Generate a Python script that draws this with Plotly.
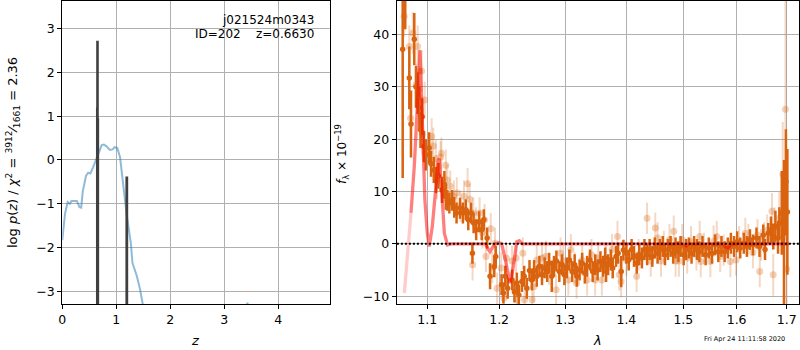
import plotly.graph_objects as go

W, H = 800, 350

# ---------------- left panel data: p(z) ----------------
pz_z = [0.0, 0.05, 0.10, 0.14, 0.17, 0.23, 0.27, 0.32, 0.35, 0.38, 0.44, 0.48, 0.52,
        0.57, 0.62, 0.67, 0.73, 0.77, 0.82, 0.88, 0.93, 0.97, 1.02, 1.07, 1.13, 1.19,
        1.27, 1.30, 1.38, 1.44, 1.49, 1.55, 1.7, 2.0, 2.5, 3.0, 3.3, 3.38, 3.43, 3.48,
        3.6, 4.0, 4.5, 4.96]
pz_logp = [-1.83, -1.23, -0.96, -1.0, -0.94, -0.93, -0.94, -1.08, -1.09, -0.71, -0.36,
           -0.29, -0.31, -0.17, -0.02, 0.17, 0.34, 0.35, 0.31, 0.23, 0.24, 0.29, 0.27,
           0.06, -0.62, -1.22, -1.9, -2.35, -2.65, -2.95, -3.29, -3.8, -5, -7, -8, -7,
           -5, -3.6, -3.26, -3.6, -5, -7, -8, -9]

chi_z = [0.635, 0.652, 0.668, 1.195]
chi_top = [1.2, 2.72, 0.95, -0.38]
chi_w = [1.2, 2.6, 1.6, 2.8]
BAR_FLOOR = -10

# ---------------- right panel data: spectrum ----------------
dark_wave = [1.0677, 1.071, 1.0763, 1.0785, 1.0828, 1.0850, 1.0872, 1.0895, 1.0910, 1.0932,
             1.0955, 1.0981, 1.1025, 1.1050, 1.1087, 1.1117, 1.1150, 1.1198, 1.1230, 1.1250,
             1.1270, 1.1298, 1.1335, 1.1365, 1.1397, 1.1445, 1.1485, 1.1525, 1.1560, 1.1600,
             1.1618, 1.1635, 1.1671, 1.1713, 1.1750, 1.1780, 1.1827, 1.1869, 1.1930, 1.1951,
             1.2036, 1.2062, 1.2090, 1.2125, 1.2190, 1.2225, 1.2260, 1.2290, 1.2335, 1.2370,
             1.2410, 1.2450, 1.2485, 1.2520, 1.2560, 1.2600, 1.2640, 1.2680, 1.2720, 1.2749,
             1.2790, 1.2825, 1.2862, 1.2908, 1.2950, 1.2987, 1.3025, 1.3066, 1.3110, 1.3150,
             1.3185, 1.3229, 1.3270, 1.3313, 1.3350, 1.3397, 1.3440, 1.3482, 1.3520, 1.3567,
             1.3611, 1.3645, 1.3660, 1.3694, 1.3739, 1.3770, 1.3826, 1.3860, 1.3913, 1.3950,
             1.4000, 1.4040, 1.4089, 1.4130, 1.4177, 1.4220, 1.4266, 1.4310, 1.4357, 1.4400,
             1.4447, 1.4490, 1.4539, 1.4580, 1.4631, 1.4670, 1.4724, 1.4770, 1.4817, 1.4860,
             1.4911, 1.4950, 1.5006, 1.5050, 1.5101, 1.5150, 1.5197, 1.5250, 1.5294, 1.5352,
             1.5411, 1.5470, 1.5529, 1.5589, 1.5649, 1.5709, 1.5770, 1.5830, 1.5890, 1.5950,
             1.6010, 1.6070, 1.6140, 1.6200, 1.6260, 1.6320, 1.6390, 1.6450, 1.6525, 1.6560,
             1.6625, 1.6680, 1.6725, 1.6770, 1.6823, 1.6850, 1.6900, 1.6945, 1.6985, 1.7015]
dark_flux = [37.2, 49.0, 31.7, 22.9, 39.1, 30.0, 28.8, 26.0, 21.8, 24.3,
             18.6, 17.0, 18.3, 15.3, 14.1, 12.2, 13.0, 10.3, 11.4, 9.0,
             8.3, 7.8, 8.3, 7.0, 5.9, 6.8, 5.9, 6.5, 4.6, 5.9,
             -1.8, 4.0, 2.7, 4.2, 2.7, 4.6, 1.1, -6.2, -4.4, -2.4,
             -7.8, -9.4, -6.2, -8.5, -6.9, -9.2, -7.5, -9.8, -7.2, -6.2,
             -8.5, -5.1, -6.9, -5.1, -6.2, -4.3, -5.9, -4.6, -5.3, -3.7,
             -6.2, -4.3, -3.3, -5.3, -4.0, -5.9, -4.6, -3.1, -5.3, -4.0,
             -6.2, -5.0, -3.7, -5.6, -4.3, -3.1, -5.3, -4.0, -5.0, -3.4,
             -4.3, -2.7, -5.3, -4.0, -3.1, -4.6, -2.4, -1.8, -5.3, -1.2,
             -1.8, -3.1, -1.1, -2.4, -3.7, -2.1, -2.7, -1.1, -2.1, -1.1,
             -2.4, -0.8, -1.8, -1.1, -0.5, -2.1, -1.1, -0.5, -1.8, -0.8,
             -1.5, -0.5, -2.1, -1.1, -0.8, -1.8, -0.5, -1.1, -1.5, -0.5,
             -2.1, -0.8, -1.8, -0.2, -1.5, -0.5, -1.5, -0.8, 0.1, -0.5,
             0.4, -0.8, 0.1, -0.5, 0.8, -0.2, 1.1, -0.5, 1.7, -1.1,
             2.0, 2.7, 1.4, 3.3, 1.1, 4.0, 5.9, 2.0, 11.9, 6.1]
dark_err = [24.6, 8, 6, 6.4, 5, 4, 4, 4, 3.5, 3.5,
            3, 3, 3, 2.5, 2.5, 2.5, 2.5, 2.5, 2.5, 2.5,
            2, 2, 2, 2, 2, 2, 2, 2, 2, 2,
            2, 2, 2, 2, 2, 2, 2, 2.5, 2, 2,
            2, 2, 2, 2, 2, 2, 2, 2, 2, 2,
            2, 2, 2, 2, 2, 2, 2, 2, 2, 2,
            3, 2, 2, 2, 2, 2, 2, 2, 2, 2,
            2, 2, 2, 2, 2, 2, 2, 2, 2, 2,
            2, 2, 2, 2, 2, 2, 2, 2, 3, 2,
            2, 2, 2, 2, 2, 2, 2, 2, 2, 2,
            2, 2, 2, 2, 2, 2, 2, 2, 2, 2,
            2, 2, 2, 2, 2, 2, 2, 2, 2, 2,
            2, 2, 2, 2, 2, 2, 2, 2, 2, 2,
            2, 2, 2, 2, 2, 2, 2, 2, 2, 2,
            2, 2.5, 2.5, 3, 3, 3, 8, 14, 10, 12]

light_wave = [1.0697, 1.0763, 1.0780, 1.0808, 1.0850, 1.0872, 1.0890, 1.0895, 1.0925, 1.0935,
              1.0965, 1.1058, 1.1080, 1.1115, 1.1130, 1.1180, 1.1190, 1.1250, 1.1270, 1.1310,
              1.1360, 1.1400, 1.1450, 1.1500, 1.1550, 1.1580, 1.1620, 1.1630, 1.1670, 1.1720,
              1.1760, 1.1790, 1.1810, 1.1880, 1.1900, 1.1940, 1.1970, 1.2030, 1.2070, 1.2107,
              1.2190, 1.2250, 1.2260, 1.2350, 1.2375, 1.2490, 1.2513, 1.2560, 1.2640, 1.2698,
              1.2750, 1.2858, 1.2927, 1.2970, 1.3050, 1.3090, 1.3150, 1.3180, 1.3270, 1.3350,
              1.3420, 1.3480, 1.3530, 1.3590, 1.3660, 1.3760, 1.3850, 1.3880, 1.3910, 1.4000,
              1.4175, 1.4210, 1.4355, 1.4420, 1.4499, 1.4540, 1.4600, 1.4650, 1.4750, 1.4827,
              1.4860, 1.4920, 1.4980, 1.5070, 1.5140, 1.5240, 1.5300, 1.5320, 1.5380, 1.5500,
              1.5560, 1.5620, 1.5685, 1.5750, 1.5880, 1.5990, 1.6050, 1.6170, 1.6230, 1.6320,
              1.6410, 1.6455, 1.6480, 1.6540, 1.6605, 1.6700, 1.6725, 1.6750, 1.6850, 1.6900,
              1.6920, 1.6975, 1.7000]
light_flux = [43.5, 37.7, 24.0, 40.3, 30.4, 37.7, 28.0, 33.0, 33.0, 21.0,
              27.5, 20.5, 18.7, 16.3, 12.0, 16.6, 17.3, 15.0, 12.2, 11.0,
              9.1, 9.7, 7.2, 9.1, 11.5, 8.5, -4.0, 5.9, 4.0, 5.9,
              2.1, 4.6, -2.4, 2.9, -4.5, 0.1, -8.5, -4.6, -10.4, -2.7,
              -3.3, -2.7, -10.7, -1.8, -10.7, -10.7, -8.2, -3.1, -2.7, -2.4,
              -4.9, -8.8, -1.8, -3.3, -6.9, -1.1, -4.6, -7.5, -3.1, -6.9,
              -2.1, -6.9, -2.7, -6.9, -3.1, -1.1, 1.4, -5.9, -7.2, -3.1,
              -6.2, -2.1, 4.9, -3.3, 3.0, 1.1, -3.3, -0.5, 0.8, 2.4,
              -3.3, -3.3, 0.8, -2.7, 0.4, -2.1, 1.4, -3.4, -0.9, -3.4,
              0.5, 1.4, -2.4, -1.2, -3.4, -3.1, 0.4, 2.0, 0.8, -1.7,
              1.7, -5.3, -0.2, 1.1, 2.6, 6.2, -5.9, 3.0, 4.9, 4.3,
              13.3, 25.7, -4.8]
light_err = [4, 4, 4, 4, 4, 4, 4, 4, 4, 4,
             3.5, 3.5, 3.5, 3.5, 3.5, 3, 3, 3, 3, 3,
             3, 3, 3, 3, 3, 3, 3, 3, 3, 3,
             3, 3, 3, 3, 3, 3, 3, 3, 3, 3,
             3, 3, 3, 3, 3, 3, 3, 3, 3, 3,
             3, 3, 3, 3, 3, 3, 3, 3, 3, 3,
             3, 3, 3, 3, 3, 3, 3, 3, 3, 3,
             3, 3, 3, 3, 3, 3, 3, 3, 3, 3,
             3, 3, 3, 3, 3, 3, 3, 3, 3, 3,
             3, 3, 3, 3, 3, 3, 3, 3, 3, 3,
             3, 3, 3, 3, 3, 3.5, 4, 4, 5, 6,
             10, 25, 12]

model_edge_wave = [1.0698, 1.0785]
model_edge_flux = [-9.4, 5.9]
model_wave = [1.0785, 1.0828, 1.0872, 1.0890, 1.0903, 1.0915, 1.0932, 1.0968, 1.1000, 1.1026,
              1.1067, 1.1107, 1.1148, 1.1160, 1.1190, 1.1230, 1.1273, 1.1320, 1.1800, 1.1840,
              1.1867, 1.1900, 1.1940, 1.2000, 1.2037, 1.2090, 1.2130, 1.2160, 1.2200, 1.2240,
              1.2260, 1.2298, 1.2340, 1.5000, 1.5050, 1.5100, 1.5750, 1.5790, 1.5830, 1.5870,
              1.5900, 1.7050]
model_flux = [5.9, 14.8, 27.5, 34.0, 37.0, 32.0, 25.6, 8.4, 2.0, -0.5,
              3.3, 9.7, 16.0, 16.3, 11.0, 2.0, -0.2, 0.0, 0.0, -1.0,
              -1.5, -0.8, 0.0, 0.2, 0.0, -3.0, -6.0, -7.5, -5.0, -1.0,
              0.4, 0.6, 0.0, 0.0, -0.4, 0.0, 0.0, -0.6, -0.8, -0.4,
              0.0, 0.0]

zero_wave = [1.05, 1.75]
zero_flux = [0, 0]

xticks_wave = [1.1, 1.2, 1.3, 1.4, 1.5, 1.6, 1.7]
xtick_text = ["1.1", "1.2", "1.3", "1.4", "1.5", "1.6", "1.7"]

ORANGE = "rgb(217,99,14)"
ORANGE_L = "rgba(217,99,14,0.3)"
ORANGE_LE = "rgba(217,99,14,0.25)"

fig = go.Figure()

# left panel
fig.add_trace(go.Scatter(x=pz_z, y=pz_logp, mode="lines",
                         line=dict(color="rgba(31,119,180,0.5)", width=2),
                         xaxis="x", yaxis="y", hoverinfo="skip"))
for zz, tt, ww in zip(chi_z, chi_top, chi_w):
    fig.add_trace(go.Scatter(x=[zz, zz], y=[BAR_FLOOR, tt], mode="lines",
                             line=dict(color="rgb(64,64,64)", width=ww),
                             xaxis="x", yaxis="y", hoverinfo="skip"))

# right panel
fig.add_trace(go.Scatter(x=light_wave, y=light_flux, mode="markers",
                         marker=dict(color=ORANGE_L, size=7),
                         error_y=dict(type="data", array=light_err, color=ORANGE_LE,
                                      thickness=2, width=0),
                         xaxis="x2", yaxis="y2", hoverinfo="skip"))
fig.add_trace(go.Scatter(x=dark_wave, y=dark_flux, mode="markers",
                         marker=dict(color=ORANGE, size=5.5),
                         error_y=dict(type="data", array=dark_err, color=ORANGE,
                                      thickness=2.5, width=0),
                         xaxis="x2", yaxis="y2", hoverinfo="skip"))
fig.add_trace(go.Scatter(x=model_edge_wave, y=model_edge_flux, mode="lines",
                         line=dict(color="rgba(255,0,0,0.2)", width=3.3),
                         xaxis="x2", yaxis="y2", hoverinfo="skip"))
fig.add_trace(go.Scatter(x=model_wave, y=model_flux, mode="lines",
                         line=dict(color="rgba(255,0,0,0.5)", width=3.3),
                         xaxis="x2", yaxis="y2", hoverinfo="skip"))
fig.add_trace(go.Scatter(x=zero_wave, y=zero_flux, mode="lines",
                         line=dict(color="black", width=2, dash="2px,2px"),
                         xaxis="x2", yaxis="y2", hoverinfo="skip"))

FONT = "DejaVu Sans"
axis_common = dict(showline=True, mirror=True, linecolor="black", linewidth=1,
                   showgrid=True, gridcolor="#b0b0b0", gridwidth=1,
                   ticks="outside", ticklen=4, tickwidth=1, tickcolor="black",
                   tickfont=dict(family=FONT, size=12.5, color="black"),
                   zeroline=False, automargin=False)

ydom = [1 - 304 / H, 1 - 1 / H]
fig.update_layout(
    template="none",
    width=W, height=H, margin=dict(l=0, r=0, t=0, b=0, autoexpand=False),
    paper_bgcolor="white", plot_bgcolor="white", showlegend=False,
    xaxis=dict(domain=[62.3 / W, 330 / W], range=[0, 4.96], anchor="y",
               tickvals=[0, 1, 2, 3, 4], **axis_common),
    yaxis=dict(domain=ydom, range=[-3.29, 3.63], anchor="x",
               tickvals=[-3, -2, -1, 0, 1, 2, 3], **axis_common),
    xaxis2=dict(domain=[396.7 / W, 799.3 / W], type="log", range=[0.0253, 0.2371],
                anchor="y2", tickvals=xticks_wave, ticktext=xtick_text, **axis_common),
    yaxis2=dict(domain=ydom, range=[-11.5, 46.4], anchor="x2",
                tickvals=[-10, 0, 10, 20, 30, 40], **axis_common),
)

def ann(text, x, y, size=13, xanchor="center", angle=0):
    fig.add_annotation(text=text, x=x / W, y=1 - y / H, xref="paper", yref="paper",
                       showarrow=False, xanchor=xanchor, yanchor="middle",
                       textangle=angle, font=dict(family=FONT, size=size, color="black"))

ann("j021524m0343", 315.5, 20, size=12, xanchor="right")
ann("ID=202\u00a0\u00a0\u00a0\u00a0z=0.6630", 315.5, 34, size=12, xanchor="right")
ann("<i>z</i>", 195, 340)
ann("<i>λ</i>", 597, 340)
ann("log <i>p</i>(<i>z</i>) / <i>χ</i><sup>2</sup> = <sup>3912</sup>⁄<sub>1661</sub> = 2.36",
    13, 153, size=13, angle=-90)
ann("<i>f</i><sub>λ</sub> × 10<sup>−19</sup>", 342, 154, size=12, angle=-90)
ann("Fri Apr 24 11:11:58 2020", 744, 339, size=6.5)

fig.write_html("out.html", config={"displayModeBar": False},
               post_script="document.body.style.margin='0';document.body.style.padding='0';")
